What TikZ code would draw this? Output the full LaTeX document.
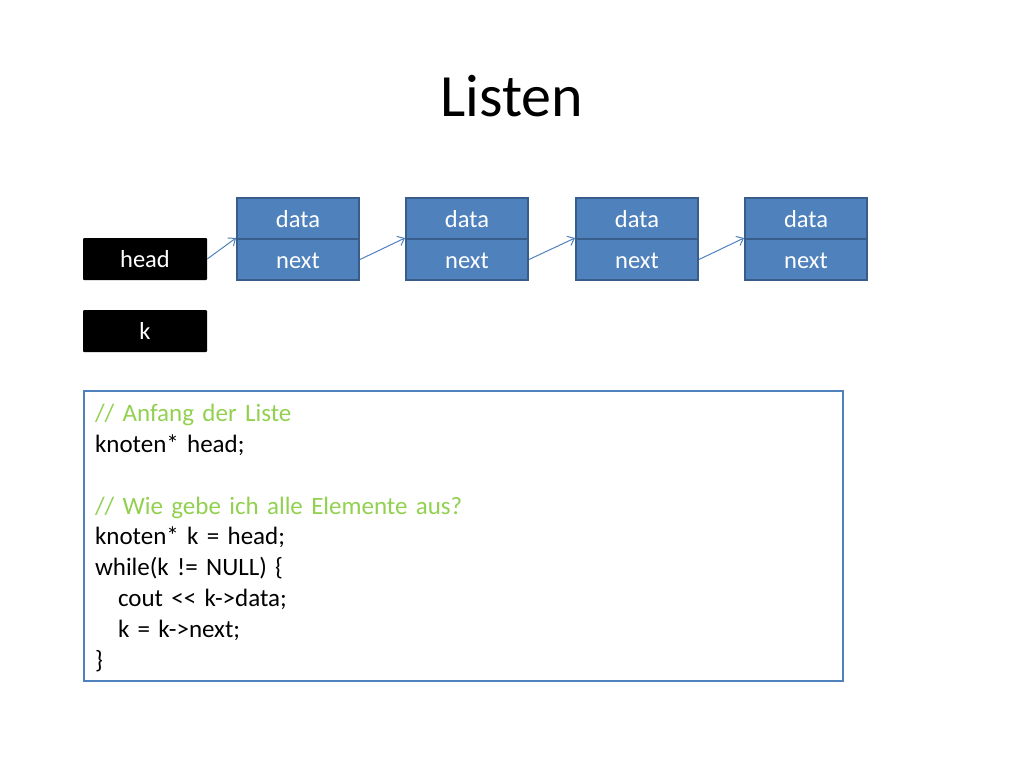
\documentclass[tikz,border=0pt]{standalone}
\usepackage{fontspec}
\setmainfont{Carlito}
\usetikzlibrary{arrows.meta}
\definecolor{nodeblue}{HTML}{4F81BD}
\definecolor{nodeedge}{HTML}{385D8A}
\definecolor{cmtgreen}{HTML}{92D050}
\begin{document}
\begin{tikzpicture}[x=1pt,y=-1pt,
  cell/.style={draw=nodeedge, line width=2pt, fill=nodeblue, text=white,
    minimum width=122pt, minimum height=41pt, inner sep=0pt,
    text height=17pt, text depth=0pt, font=\fontsize{24.5}{28}\selectfont},
  var/.style={fill=black, text=white, rounded corners=1pt,
    minimum width=124pt, minimum height=42pt, inner sep=0pt,
    text height=17pt, text depth=0pt, font=\fontsize{24.5}{28}\selectfont},
  link/.style={draw=nodeblue, line width=1pt, -{Straight Barb[length=6pt,width=10pt]}},
  codeframe/.style={draw=nodeblue, line width=2pt,
    minimum width=759pt, minimum height=290pt, inner sep=0pt},
  codetext/.style={text width=737pt, align=left, inner sep=0pt,
    font=\fontsize{25}{30.8}\selectfont}
]
\useasboundingbox (0,0) rectangle (1024,768);
\node[font=\fontsize{60}{70}\selectfont] (title) at (512,96) {Listen};

\foreach \i/\x in {1/298,2/467,3/637,4/806}{
  \node[cell] (data\i) at (\x,218.5) {data};
  \node[cell] (next\i) at (\x,259.5) {next};
}
\node[var] (head) at (145,259) {head};
\node[var] (k) at (145,331) {k};

\draw[link] (head.east) -- (next1.north west);
\draw[link] (next1.east) -- (next2.north west);
\draw[link] (next2.east) -- (next3.north west);
\draw[link] (next3.east) -- (next4.north west);

\node[codeframe] (code) at (463.5,536) {};
\node[codetext] (codetext) at ([yshift=-2pt]code.center) {%
{\color{cmtgreen}// Anfang der Liste}\\
knoten* head;\\
\mbox{}\\
{\color{cmtgreen}// Wie gebe ich alle Elemente aus?}\\
knoten* k = head;\\
while(k != NULL) \{\\
\hspace*{23pt}cout <{}< k->data;\\
\hspace*{23pt}k = k->next;\\
\}};
\end{tikzpicture}
\end{document}
